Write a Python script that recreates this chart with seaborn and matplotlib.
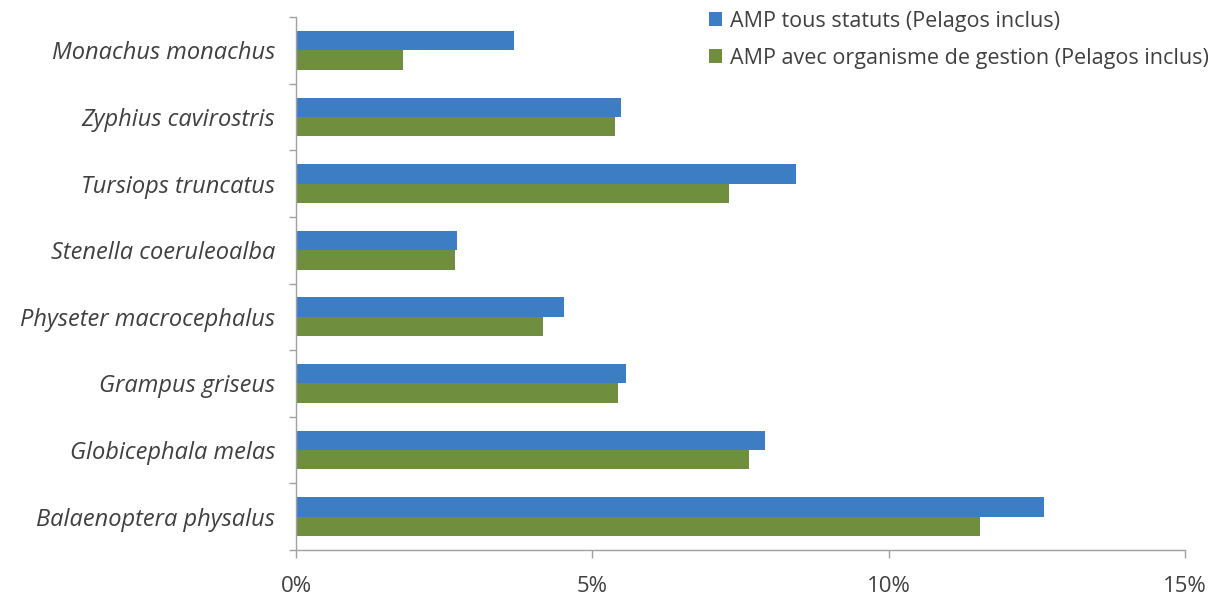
import pandas as pd
import matplotlib
matplotlib.use("Agg")
import matplotlib.pyplot as plt
import seaborn as sns
import matplotlib.ticker as ticker

# données (% de l'aire de répartition couverte)
species = [
    "Monachus monachus",
    "Zyphius cavirostris",
    "Tursiops truncatus",
    "Stenella coeruleoalba",
    "Physeter macrocephalus",
    "Grampus griseus",
    "Globicephala melas",
    "Balaenoptera physalus",
]
amp_tous = [3.67, 5.49, 8.44, 2.72, 4.53, 5.57, 7.92, 12.62]
amp_gestion = [1.81, 5.39, 7.31, 2.68, 4.17, 5.44, 7.65, 11.54]
series = ["AMP tous statuts (Pelagos inclus)",
          "AMP avec organisme de gestion (Pelagos inclus)"]
xticks = [0, 5, 10, 15]

BLUE = "#3d7dc3"
GREEN = "#6f8f3f"
GREY = "#404040"

sns.set_theme(style="white")
plt.rcParams['font.family'] = ['Open Sans', 'DejaVu Sans']

df = pd.DataFrame({
    "espece": species * 2,
    "valeur": amp_tous + amp_gestion,
    "serie": [series[0]] * len(species) + [series[1]] * len(species),
})

fig = plt.figure(figsize=(12.13, 6.0), dpi=100)
ax = fig.add_axes([296 / 1213, 1 - 550 / 600, (1185 - 296) / 1213, (550 - 17) / 600])

sns.barplot(data=df, x="valeur", y="espece", hue="serie", order=species,
            hue_order=series, palette=[BLUE, GREEN], orient="h",
            width=0.58, saturation=1, linewidth=0, ax=ax, legend=True)

ax.set_xlim(0, 15)
ax.set_ylim(len(species) - 0.5, -0.5)
ax.set_xticks(xticks)
ax.xaxis.set_major_formatter(ticker.FuncFormatter(lambda v, _: f"{v:.0f}%"))
ax.set_xlabel("")
ax.set_ylabel("")

# ticks façon Excel : marques entre les catégories
ax.set_yticks([i - 0.5 for i in range(len(species) + 1)], minor=True)
ax.tick_params(axis="y", which="major", length=0, pad=15, labelsize=17, labelcolor=GREY)
ax.tick_params(axis="y", which="minor", length=5, color="#a0a0a0", width=1, left=True)
ax.tick_params(axis="x", which="major", length=6, color="#a0a0a0", width=1, bottom=True,
               pad=13, labelsize=16, labelcolor=GREY)
for lab in ax.get_yticklabels():
    lab.set_fontstyle("italic")

for side in ["top", "right"]:
    ax.spines[side].set_visible(False)
for side in ["left", "bottom"]:
    ax.spines[side].set_color("#a0a0a0")
    ax.spines[side].set_linewidth(1)

handles, labels = ax.get_legend_handles_labels()
ax.legend(handles, labels, loc="upper left", bbox_to_anchor=(700 / 1213, 1 - 2 / 600),
          bbox_transform=fig.transFigure, frameon=False, fontsize=15.5,
          handlelength=0.6, handleheight=0.6, handletextpad=0.4, labelspacing=0.75,
          labelcolor=GREY, borderaxespad=0)

fig.savefig("out.png", dpi=100)
